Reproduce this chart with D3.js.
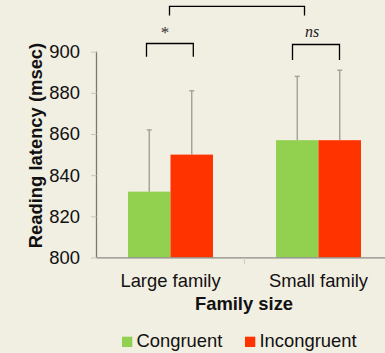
<!DOCTYPE html>
<html>
<head>
<meta charset="utf-8">
<script src="https://cdn.jsdelivr.net/npm/d3@7/dist/d3.min.js"></script>
<style>
  html, body { margin: 0; padding: 0; background: #f1eee2; }
  svg { display: block; font-family: "Liberation Sans", Arial, sans-serif; }
</style>
</head>
<body>
<svg id="chart" width="385" height="353"></svg>
<script>
// Reading latency by family size and congruency
const groups = ["Large family", "Small family"];
const conditions = ["Congruent", "Incongruent"];
const congruent = [832, 857];
const incongruent = [850, 857];
const congruentErr = [30, 31];
const incongruentErr = [31, 34];
const yTicks = [800, 820, 840, 860, 880, 900];
const colors = ["#92d050", "#ff3300"];
const significance = ["*", "ns"];

const svg = d3.select("#chart");
const W = 385, H = 353;
const FS = 18.4;
svg.append("rect").attr("width", W).attr("height", H).attr("fill", "#f1eee2");

const x0 = d3.scaleBand().domain(groups).range([96.5, 392.5])
  .paddingInner(0.426).paddingOuter(0.213);
const x1 = d3.scaleBand().domain(conditions).range([0, x0.bandwidth()]);
const y = d3.scaleLinear().domain([800, 900]).range([257.5, 51.7]);

const rows = groups.map((g, i) => ({
  group: g,
  values: [
    { cond: conditions[0], v: congruent[i], e: congruentErr[i] },
    { cond: conditions[1], v: incongruent[i], e: incongruentErr[i] }
  ]
}));

// error bars (upper half only), drawn behind the bars
const gErr = svg.append("g");
rows.forEach(r => {
  r.values.forEach(d => {
    const cx = x0(r.group) + x1(d.cond) + x1.bandwidth() / 2;
    gErr.append("line").attr("x1", cx).attr("x2", cx)
      .attr("y1", y(d.v)).attr("y2", y(d.v + d.e))
      .attr("stroke", "#a3a197").attr("stroke-width", 1.4);
    gErr.append("line").attr("x1", cx - 2.5).attr("x2", cx + 2.5)
      .attr("y1", y(d.v + d.e)).attr("y2", y(d.v + d.e))
      .attr("stroke", "#a3a197").attr("stroke-width", 1.4);
  });
});

// bars
rows.forEach(r => {
  svg.append("g").selectAll("rect").data(r.values).join("rect")
    .attr("x", d => x0(r.group) + x1(d.cond))
    .attr("width", x1.bandwidth())
    .attr("y", d => y(d.v))
    .attr("height", d => y(800) - y(d.v))
    .attr("fill", (d, i) => colors[i]);
});

// y axis
const yAxis = svg.append("g").attr("transform", "translate(96.5,0)")
  .call(d3.axisLeft(y).tickValues(yTicks).tickSize(5.5).tickPadding(11).tickSizeOuter(0));
yAxis.select(".domain").attr("stroke", "#7a7a74").attr("stroke-width", 1.3)
  .attr("d", `M0,${y(900)}V${y(800)}`);
yAxis.selectAll(".tick line").attr("stroke", "#c9c6ba");
yAxis.selectAll(".tick text").attr("font-size", FS).attr("fill", "#111")
  .attr("font-family", "Liberation Sans, Arial, sans-serif");

// x axis
svg.append("line").attr("x1", 96.5).attr("x2", W).attr("y1", 257.8).attr("y2", 257.8)
  .attr("stroke", "#8a8a84").attr("stroke-width", 1.3);
svg.append("line").attr("x1", x0.range()[0] + x0.step()).attr("x2", x0.range()[0] + x0.step())
  .attr("y1", 258).attr("y2", 264).attr("stroke", "#d2cfc3").attr("stroke-width", 1.2);
svg.append("g").selectAll("text").data(groups).join("text")
  .attr("x", d => x0(d) + x0.bandwidth() / 2)
  .attr("y", 287)
  .attr("text-anchor", "middle")
  .attr("font-size", FS).attr("fill", "#111")
  .text(d => d);

// axis titles
svg.append("text").attr("x", 244).attr("y", 310).attr("text-anchor", "middle")
  .attr("font-size", FS).attr("font-weight", "bold").attr("fill", "#111")
  .text("Family size");
svg.append("text").attr("transform", "translate(42,145.5) rotate(-90)")
  .attr("text-anchor", "middle").attr("font-size", FS).attr("font-weight", "bold")
  .attr("fill", "#111").text("Reading latency (msec)");

// significance brackets
function bracket(xa, xb, yTop, yLeg) {
  svg.append("path")
    .attr("d", `M${xa},${yLeg}V${yTop}H${xb}V${yLeg}`)
    .attr("fill", "none").attr("stroke", "#000").attr("stroke-width", 1.3);
}
const gc = groups.map(g => x0(g) + x0.bandwidth() / 2);
bracket(gc[0] - 24, gc[0] + 22.8, 43.5, 56.7);
bracket(gc[1] - 26, gc[1] + 21, 44.5, 60);
bracket(gc[0] - 1, gc[1] - 14, 6.3, 15.5);
svg.append("text").attr("x", gc[0] - 5.5).attr("y", 37.5).attr("text-anchor", "middle")
  .attr("font-family", "Liberation Serif, serif").attr("font-size", 17).attr("fill", "#333")
  .text(significance[0]);
svg.append("text").attr("x", gc[1] - 6.5).attr("y", 37).attr("text-anchor", "middle")
  .attr("font-family", "Liberation Serif, serif").attr("font-style", "italic")
  .attr("font-size", 16).attr("fill", "#222").text(significance[1]);

// legend
const legendX = [122, 245];
const lg = svg.append("g").selectAll("g").data(conditions).join("g")
  .attr("transform", (d, i) => `translate(${legendX[i]},0)`);
lg.append("rect").attr("x", 0).attr("y", 336.7).attr("width", 10.3).attr("height", 10.3)
  .attr("fill", (d, i) => colors[i]);
lg.append("text").attr("x", 14.5).attr("y", 347.3).attr("font-size", FS).attr("fill", "#111")
  .text(d => d);
</script>
</body>
</html>
